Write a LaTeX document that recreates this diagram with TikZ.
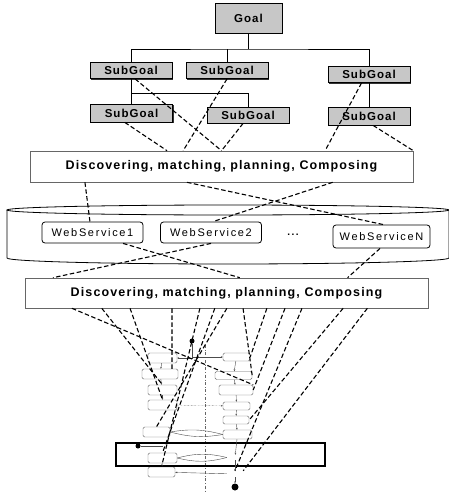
\documentclass[tikz,border=0pt]{standalone}
\usepackage{fontspec}
\usetikzlibrary{calc,arrows.meta,shadows}
\newfontfamily\goalfont[LetterSpace=9]{Liberation Sans}
\newfontfamily\wsfont[LetterSpace=15]{Liberation Sans}

\tikzset{
	goalbox/.style={draw, line width=0.9pt, fill=black!22, inner sep=0pt,
		minimum width=82pt, minimum height=16pt,
		drop shadow={shadow xshift=1.2pt, shadow yshift=-1.2pt, fill=black, opacity=0.8},
		font={\goalfont\bfseries\fontsize{11.5}{12}\selectfont}},
	phasebox/.style={draw=black!60, line width=0.6pt, fill=white, inner sep=0pt,
		font={\goalfont\bfseries\fontsize{12.5}{14}\selectfont}},
	servicebox/.style={draw, line width=0.8pt, rounded corners=3pt, fill=white, inner sep=0pt,
		minimum width=101pt, minimum height=21pt,
		font={\wsfont\fontsize{11}{13}\selectfont}},
	actbox/.style={draw=black!60, line width=0.4pt, rounded corners=1.5pt, inner sep=0pt},
	link/.style={line width=1.1pt, dash pattern=on 4.5pt off 2.5pt},
	flow/.style={black!70, line width=0.4pt, -{Stealth[length=2pt,width=1.6pt]}},
	blackdot/.style={circle, fill=black, inner sep=0pt, minimum size=#1},
}

\begin{document}
\begin{tikzpicture}[x=1pt,y=-1pt]
		\useasboundingbox (0,0) rectangle (449,492);
		
		%%%%% GOALS %%%%%
		
		\node[goalbox, minimum width=67pt, minimum height=30pt] (goal) at (248.5,18) {Goal};
		\node[goalbox] (sg1) at (131,70.5) {SubGoal};
		\node[goalbox] (sg2) at (227,70.5) {SubGoal};
		\node[goalbox] (sg3) at (369,74.5) {SubGoal};
		\node[goalbox, minimum height=18pt] (sg4) at (131.5,113) {SubGoal};
		\node[goalbox] (sg5) at (248,115) {SubGoal};
		\node[goalbox, minimum height=18pt] (sg6) at (369,116) {SubGoal};
		
		\coordinate (bus) at (248.5,49);
		\coordinate (fork) at (131,93);
		\draw[line width=0.8pt] (goal) -- (bus);
		\draw[line width=0.8pt] (sg1.north) |- (bus) -| (sg3.north);
		\draw[line width=0.8pt] (sg2.north) -- (sg2.north |- bus);
		\draw[line width=0.8pt] (sg1.south) -- (sg1.south |- sg4.north);
		\draw[line width=0.8pt] (fork) -| (sg5.north);
		\draw[line width=0.8pt] (sg3.south) -- (sg6.north);
		
		%%%%% PHASES %%%%%
		
		\node[phasebox, minimum width=383pt, minimum height=31pt] (d1) at (221.5,166.5) {Discovering, matching, planning, Composing};
		\node[phasebox, minimum width=403pt, minimum height=30pt] (d2) at (226.5,293) {Discovering, matching, planning, Composing};
		
		%%%%% REPOSITORY %%%%%
		
		\draw[line width=0.8pt] (228,210) ellipse [x radius=221pt, y radius=5pt];
		\draw[line width=0.8pt] (7,210) -- (7,258) arc[start angle=180, end angle=360, x radius=221pt, y radius=6pt] -- (449,210);
		
		\node[servicebox] (ws1) at (92.5,232.5) {WebService1};
		\node[servicebox] (ws2) at (211,232.5) {WebService2};
		\node[servicebox, minimum width=97pt, minimum height=23pt] (wsn) at (381.5,236.5) {WebServiceN};
		\node[font={\wsfont\bfseries\fontsize{10}{12}\selectfont}] (dots) at (293,235) {...};
		
		%%%%% LINKS %%%%%
		
		\draw[link] ($(sg4.south west)!0.42!(sg4.south east)$) -- ($(d1.north west)!0.358!(d1.north east)$);
		\draw[link] (sg2.south) -- ($(d1.north west)!0.40!(d1.north east)$);
		\draw[link] ($(sg1.south west)!0.55!(sg1.south east)$) -- ($(d1.north west)!0.50!(d1.north east)$);
		\draw[link] ($(sg5.south west)!0.44!(sg5.south east)$) -- ($(d1.north west)!0.50!(d1.north east)$);
		\draw[link] ($(sg3.south west)!0.41!(sg3.south east)$) -- ($(d1.north west)!0.77!(d1.north east)$);
		\draw[link] ($(sg6.south west)!0.55!(sg6.south east)$) -- (d1.north east);
		
		\draw[link] ($(d1.south west)!0.144!(d1.south east)$) -- ($(ws1.north west)!0.475!(ws1.north east)$);
		\draw[link] ($(d1.south west)!0.41!(d1.south east)$) -- ($(wsn.north west)!0.52!(wsn.north east)$);
		\draw[link] ($(d1.south west)!0.79!(d1.south east)$) -- ($(ws2.north west)!0.52!(ws2.north east)$);
		
		\draw[link] ($(ws1.south west)!0.8!(ws1.south east)$) -- ($(d2.north west)!0.533!(d2.north east)$);
		\draw[link] (ws2.south) -- ($(d2.north west)!0.07!(d2.north east)$);
		\draw[link] ($(wsn.south west)!0.485!(wsn.south east)$) -- ($(d2.north west)!0.80!(d2.north east)$);
		
		%%%%% PROCESS %%%%%
		
		\draw[black!60, line width=0.4pt, dash dot] (205,345) -- (205,492);
		
		\node[actbox, minimum width=29pt, minimum height=10pt] (l1) at (162.5,358) {};
		\node[actbox, minimum width=36pt, minimum height=10pt] (l2) at (160,374) {};
		\node[actbox, minimum width=29pt, minimum height=10pt] (l3) at (162.5,390) {};
		\node[actbox, minimum width=29pt, minimum height=10pt] (l4) at (162.5,405) {};
		\node[actbox, minimum width=27pt, minimum height=10pt] (l5) at (156.5,432) {};
		\node[actbox, minimum width=29pt, minimum height=10pt] (l7) at (162.5,458) {};
		\node[actbox, minimum width=27pt, minimum height=10pt] (l8) at (161.5,472) {};
		
		\node[actbox, minimum width=27pt, minimum height=8pt] (r1) at (236.5,357) {};
		\node[actbox, minimum width=37pt, minimum height=8pt] (r2) at (233.5,375.5) {};
		\node[actbox, minimum width=34pt, minimum height=10pt] (r3) at (236,390) {};
		\node[actbox, minimum width=27pt, minimum height=8pt] (r4) at (236.5,406) {};
		\node[actbox, minimum width=26pt, minimum height=8pt] (r5) at (236,420) {};
		\node[actbox, minimum width=29pt, minimum height=9pt] (r6) at (237.5,434.5) {};
		\node[inner sep=0pt, minimum width=16pt, minimum height=5pt] (r7) at (235,457.5) {};
		\node[inner sep=0pt, minimum width=16pt, minimum height=6pt] (r8) at (235,474) {};
		
		\node[blackdot=5pt] (start) at (192,341) {};
		\node[blackdot=7pt] (stop) at (235,487) {};
		\node[blackdot=5pt] (entry) at (138,446) {};
		\coordinate (l6) at (163,446);
		
		\draw[line width=1.6pt] (116,443) rectangle (325,466);
		
		\draw[flow] (start) |- (l1.east);
		\draw[flow] (start) |- (r1.west);
		\draw[flow] (l1) -- (l2);
		\draw[flow] (l2) -- (l3);
		\draw[flow] (l3) -- (l4);
		\draw[flow] (l7) -- (l8);
		\draw[flow] (r1) -- (r2);
		\draw[flow] (r2) -- (r3);
		\draw[flow] (r3) -- (r4);
		\draw[flow] (r4) -- (r5);
		\draw[flow] (r5) -- (r6);
		\draw[flow] (r6) -- (r7);
		\draw[flow] (r7) -- (r8);
		\draw[flow] (r8) -- (stop);
		\draw[flow, densely dotted] (l4) -- (r4);
		\draw[black!70, line width=0.4pt] (l5.east) to[bend left=12] (r6.west);
		\draw[black!70, line width=0.4pt] (l5.east) to[bend right=12] (r6.west);
		\draw[black!70, line width=0.4pt] (l7.east) to[bend left=14] (r7.west);
		\draw[black!70, line width=0.4pt] (l7.east) to[bend right=14] (r7.west);
		\draw[flow] (r8) -- (l8);
		\draw[black!70, line width=0.5pt] (entry) -- (l6);
		
		\draw[link] ($(d2.south west)!0.117!(d2.south east)$) -- (r3.north east);
		\draw[link] ($(d2.south west)!0.191!(d2.south east)$) -- (l3.north);
		\draw[link] ($(d2.south west)!0.261!(d2.south east)$) -- (l4.north);
		\draw[link] ($(d2.south west)!0.365!(d2.south east)$) -- ($(l2.north west)!0.83!(l2.north east)$);
		\draw[link] ($(d2.south west)!0.434!(d2.south east)$) -- (l8.north);
		\draw[link] ($(d2.south west)!0.471!(d2.south east)$) -- (l7.north);
		\draw[link] ($(d2.south west)!0.501!(d2.south east)$) -- (l5.north);
		\draw[link] ($(d2.south west)!0.541!(d2.south east)$) -- (r2.east);
		\draw[link] ($(d2.south west)!0.600!(d2.south east)$) -- (r1.east);
		\draw[link] ($(d2.south west)!0.645!(d2.south east)$) -- (r3.east);
		\draw[link] ($(d2.south west)!0.687!(d2.south east)$) -- (r8.north);
		\draw[link] ($(d2.south west)!0.789!(d2.south east)$) -- (r5.east);
		\draw[link] ($(d2.south west)!0.849!(d2.south east)$) -- (r8.north east);
		
	\end{tikzpicture}
\end{document}
